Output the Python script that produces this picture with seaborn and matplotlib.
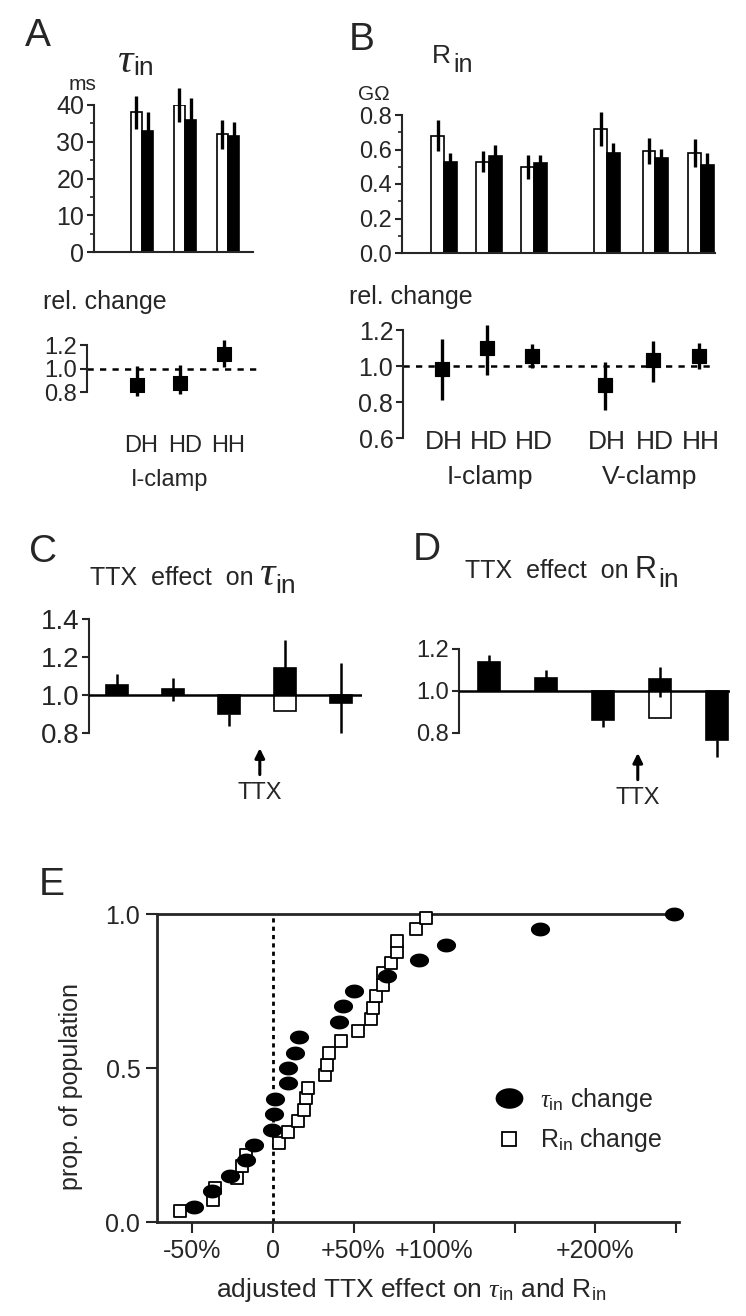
import numpy as np
import pandas as pd
import seaborn as sns
import matplotlib.pyplot as plt
from matplotlib.path import Path
from matplotlib.lines import Line2D
from matplotlib.transforms import blended_transform_factory

# ---- data ----
# A: tau_in (ms), white = control, black = test
a_groups = ["DH", "HD", "HH"]
a_ctrl = [38.0, 40.0, 32.0]
a_ctrl_err = [4.5, 4.5, 4.0]
a_test = [33.0, 36.0, 31.5]
a_test_err = [5.0, 6.0, 4.0]
a_rel = [0.86, 0.88, 1.12]
a_rel_lo = [0.77, 0.78, 1.01]
a_rel_hi = [1.02, 1.03, 1.24]

# B: R_in (GOhm)
b_groups = ["DH", "HD", "HD", "DH", "HD", "HH"]
b_ctrl = [0.68, 0.53, 0.50, 0.72, 0.59, 0.58]
b_ctrl_err = [0.09, 0.06, 0.07, 0.10, 0.075, 0.08]
b_test = [0.53, 0.56, 0.52, 0.58, 0.55, 0.51]
b_test_err = [0.05, 0.065, 0.05, 0.06, 0.055, 0.07]
b_rel = [0.985, 1.10, 1.056, 0.893, 1.033, 1.056]
b_rel_lo = [0.81, 0.95, 0.99, 0.756, 0.91, 0.985]
b_rel_hi = [1.148, 1.23, 1.12, 1.02, 1.14, 1.13]

# C: TTX effect on tau_in
c_test = [1.054, 1.034, 0.90, 1.14, 0.96]
c_ctrl = [np.nan, np.nan, np.nan, 0.915, np.nan]
c_lo = [1.0, 0.97, 0.835, 1.0, 0.80]
c_hi = [1.11, 1.09, 0.90, 1.29, 1.17]

# D: TTX effect on R_in
d_test = [1.138, 1.061, 0.861, 1.056, 0.765]
d_ctrl = [np.nan, np.nan, np.nan, 0.873, np.nan]
d_lo = [1.0, 1.0, 0.83, 0.973, 0.685]
d_hi = [1.17, 1.10, 0.861, 1.113, 0.765]

# E: cumulative distributions (% change)
tau_x = [-49, -38, -27, -17, -12, -0.5, 0.5, 1.5, 9.5, 9.5, 13.5, 16, 41, 43.5,
         50, 70.5, 90.5, 107.5, 166, 249]
tau_y = [0.05, 0.10, 0.15, 0.20, 0.25, 0.30, 0.35, 0.40, 0.45, 0.50, 0.55, 0.60,
         0.65, 0.70, 0.75, 0.80, 0.85, 0.90, 0.95, 1.00]
r_x = [-58, -37.5, -36, -22.5, -19.5, -17, 3.5, 9, 15.5, 19, 20.5, 21.5, 32,
       33.5, 35, 42, 53, 61, 62, 64, 68, 68.5, 73.5, 77, 77, 89, 95]
r_y = [0.037, 0.071, 0.110, 0.144, 0.182, 0.218, 0.258, 0.291, 0.329, 0.364,
       0.402, 0.436, 0.477, 0.510, 0.548, 0.588, 0.621, 0.659, 0.696, 0.734,
       0.769, 0.807, 0.840, 0.878, 0.912, 0.950, 0.986]

# ---- layout ----
a_pos = [0, 1, 2]
b_pos = [0, 1, 2, 3.62, 4.69, 5.71]

sns.set_style("ticks")
plt.rcParams["font.family"] = ["Liberation Sans", "DejaVu Sans"]
plt.rcParams["mathtext.fontset"] = "custom"
plt.rcParams["mathtext.rm"] = "Liberation Sans"
plt.rcParams["mathtext.it"] = "Liberation Serif:italic"
plt.rcParams["axes.linewidth"] = 1.5
plt.rcParams["xtick.major.width"] = 1.5
plt.rcParams["ytick.major.width"] = 1.5
plt.rcParams["ytick.minor.width"] = 1.2

W, H = 746, 1316
fig = plt.figure(figsize=(W / 100, H / 100), dpi=100)


def add_ax(x0, x1, y0, y1):
    return fig.add_axes([x0 / W, 1 - y1 / H, (x1 - x0) / W, (y1 - y0) / H])


def ftext(x, y, s, **kw):
    return fig.text(x / W, 1 - y / H, s, **kw)


def under_label(ax, xd, ypx, s, **kw):
    tr = blended_transform_factory(ax.transData, fig.transFigure)
    ax.text(xd, 1 - ypx / H, s, transform=tr, ha="center", va="center", **kw)


def after(ax, prev, s, ypx, dx, **kw):
    # text placed right after another text artist, baseline at ypx
    return ax.annotate(s, xy=(1.0, 1 - ypx / H), xycoords=(prev, "figure fraction"),
                       xytext=(dx, 0), textcoords="offset points", ha="left",
                       va="baseline", annotation_clip=False, **kw)


pal = {"ctrl": "white", "test": "black"}
tau_kw = dict(family="Liberation Serif", style="italic")

# ---------- A top ----------
axA = add_ax(94, 253, 105, 252)
dfA = pd.DataFrame({"pos": a_pos * 2, "val": a_ctrl + a_test,
                    "cond": ["ctrl"] * 3 + ["test"] * 3})
sns.barplot(data=dfA, x="pos", y="val", hue="cond", native_scale=True,
            palette=pal, edgecolor="black", linewidth=1.2, width=0.52,
            errorbar=None, legend=False, ax=axA)
for cont, errs in zip(axA.containers, [a_ctrl_err, a_test_err]):
    for bar, e in zip(cont, errs):
        xc = bar.get_x() + bar.get_width() / 2
        h = bar.get_height()
        axA.vlines(xc, h - e, h + e, color="black", lw=2.4, clip_on=False, zorder=4)
axA.set_xlim(-1.116, 2.58)
axA.set_ylim(0, 40)
axA.set_yticks([0, 10, 20, 30, 40])
axA.set_yticks([5, 15, 25, 35], minor=True)
axA.set_xticks([])
axA.set_xlabel("")
axA.set_ylabel("")
axA.tick_params(axis="y", labelsize=18, length=5, pad=2)
axA.tick_params(axis="y", which="minor", length=3)
sns.despine(ax=axA)

# ---------- A lower ----------
axa = add_ax(87, 257, 335.6, 397.9)
axa.axhline(1.0, color="black", lw=1.8, ls=(0, (2.5, 2.5)))
axa.vlines(a_pos, a_rel_lo, a_rel_hi, color="black", lw=2.4, zorder=3)
sns.scatterplot(x=a_pos, y=a_rel, marker="s", s=95, color="black",
                edgecolor="black", ax=axa, zorder=4)
axa.set_xlim(-1.15, 2.76)
axa.set_ylim(0.75, 1.28)
axa.set_yticks([0.8, 1.0, 1.2])
axa.set_yticklabels(["0.8", "1.0", "1.2"])
axa.set_xticks([])
axa.tick_params(axis="y", labelsize=17, length=5, pad=2)
sns.despine(ax=axa, bottom=True)
axa.spines["left"].set_bounds(0.8, 1.2)
for xp, g in zip(a_pos, a_groups):
    under_label(axa, xp + 0.1, 446, g, fontsize=17)

# ---------- B top ----------
axB = add_ax(402, 715, 115, 253)
dfB = pd.DataFrame({"pos": b_pos * 2, "val": b_ctrl + b_test,
                    "cond": ["ctrl"] * 6 + ["test"] * 6})
sns.barplot(data=dfB, x="pos", y="val", hue="cond", native_scale=True,
            palette=pal, edgecolor="black", linewidth=1.2, width=0.56,
            errorbar=None, legend=False, ax=axB)
for cont, errs in zip(axB.containers, [b_ctrl_err, b_test_err]):
    for bar, e in zip(cont, errs):
        xc = bar.get_x() + bar.get_width() / 2
        h = bar.get_height()
        axB.vlines(xc, h - e, h + e, color="black", lw=2.4, clip_on=False, zorder=4)
axB.set_xlim(-0.933, 6.02)
axB.set_ylim(0, 0.8)
axB.set_yticks([0, 0.2, 0.4, 0.6, 0.8])
axB.set_yticklabels(["0.0", "0.2", "0.4", "0.6", "0.8"])
axB.set_yticks([0.1, 0.3, 0.5, 0.7], minor=True)
axB.set_xticks([])
axB.set_xlabel("")
axB.set_ylabel("")
axB.tick_params(axis="y", labelsize=17, length=5, pad=2)
axB.tick_params(axis="y", which="minor", length=3)
sns.despine(ax=axB)

# ---------- B lower ----------
axb = add_ax(403, 715, 319.2, 441.6)
axb.axhline(1.0, color="black", lw=1.8, ls=(0, (2.5, 2.5)))
axb.vlines(b_pos, b_rel_lo, b_rel_hi, color="black", lw=2.4, zorder=3)
sns.scatterplot(x=b_pos, y=b_rel, marker="s", s=110, color="black",
                edgecolor="black", ax=axb, zorder=4)
axb.set_xlim(-0.86, 6.07)
axb.set_ylim(0.58, 1.26)
axb.set_yticks([0.6, 0.8, 1.0, 1.2])
axb.set_yticklabels(["0.6", "0.8", "1.0", "1.2"])
axb.set_xticks([])
axb.tick_params(axis="y", labelsize=18, length=5, pad=2)
sns.despine(ax=axb, bottom=True)
axb.spines["left"].set_bounds(0.6, 1.2)
for xp, g in zip(b_pos, b_groups):
    under_label(axb, xp + 0.05, 442, g, fontsize=19)


# ---------- C / D floating bars ----------
def ttx_panel(ax, test, ctrl, lo, hi):
    n = len(test)
    df = pd.DataFrame({"pos": list(range(n)) * 2,
                       "dev": [v - 1 for v in test] + [v - 1 for v in ctrl],
                       "cond": ["test"] * n + ["ctrl"] * n}).dropna()
    sns.barplot(data=df, x="pos", y="dev", hue="cond", dodge=False,
                palette=pal, edgecolor="black", linewidth=1.2, width=0.39,
                errorbar=None, legend=False, ax=ax, bottom=1.0)
    ax.vlines(range(n), lo, hi, color="black", lw=1.8, zorder=4)
    ax.axhline(1.0, color="black", lw=1.8, zorder=5)
    ax.set_xticks([])
    ax.set_xlabel("")
    ax.set_ylabel("")
    sns.despine(ax=ax, bottom=True)


arrow = dict(arrowstyle="-|>", color="black", lw=2.2, mutation_scale=14,
             shrinkA=3, shrinkB=0)

axC = add_ax(89, 362, 619, 740.6)
ttx_panel(axC, c_test, c_ctrl, c_lo, c_hi)
axC.set_xlim(-0.5, 4.375)
axC.set_ylim(0.76, 1.4)
axC.set_yticks([0.8, 1.0, 1.2, 1.4])
axC.set_yticklabels(["0.8", "1.0", "1.2", "1.4"])
axC.spines["left"].set_bounds(0.8, 1.4)
axC.tick_params(axis="y", labelsize=20, length=5, pad=2)
axC.annotate("TTX", xy=(2.55, 0.72), xytext=(2.55, 0.484), ha="center",
             va="center", fontsize=17, annotation_clip=False, arrowprops=arrow)

axD = add_ax(459, 730, 649, 760.3)
ttx_panel(axD, d_test, d_ctrl, d_lo, d_hi)
axD.set_xlim(-0.53, 4.23)
axD.set_ylim(0.67, 1.2)
axD.set_yticks([0.8, 1.0, 1.2])
axD.set_yticklabels(["0.8", "1.0", "1.2"])
axD.spines["left"].set_bounds(0.8, 1.2)
axD.tick_params(axis="y", labelsize=17, length=5, pad=2)
axD.annotate("TTX", xy=(2.61, 0.705), xytext=(2.61, 0.49), ha="center",
             va="center", fontsize=17, annotation_clip=False, arrowprops=arrow)

# ---------- E ----------
axE = add_ax(157, 679, 914, 1222)
t = np.linspace(0, 2 * np.pi, 64)
ellipse = Path(np.column_stack([1.38 * np.cos(t), np.sin(t)]), closed=True)
axE.axvline(0, ymin=0, ymax=1, color="black", lw=2.0, ls=(0, (1.5, 1.5)))
sns.scatterplot(x=r_x, y=r_y, marker="s", s=80, color="white",
                edgecolor="black", linewidth=1.3, ax=axE, zorder=3, clip_on=False)
sns.scatterplot(x=tau_x, y=tau_y, marker=ellipse, s=190, color="black",
                edgecolor="black", linewidth=0, ax=axE, zorder=4, clip_on=False)
axE.set_xlim(-72, 252)
axE.set_ylim(0, 1)
axE.set_xticks([-50, 0, 50, 100, 150, 200, 250])
axE.set_xticklabels(["-50%", "0", "+50%", "+100%", "", "+200%", ""])
axE.set_yticks([0, 0.5, 1.0])
axE.set_yticklabels(["0.0", "0.5", "1.0"])
axE.tick_params(labelsize=18, length=8, pad=4)
for side in ["left", "bottom", "top"]:
    axE.spines[side].set_linewidth(2.0)
axE.spines["right"].set_visible(False)
handles = [Line2D([], [], ls="", marker=ellipse, ms=19, color="black"),
           Line2D([], [], ls="", marker="s", ms=10, mfc="white", mec="black", mew=1.3)]
axE.legend(handles, [r"$\tau_{\mathrm{in}}$ change", r"R$_{\mathrm{in}}$ change"],
           loc="center left", bbox_to_anchor=(0.650, 0.331), frameon=False,
           fontsize=18, handlelength=1.0, handletextpad=0.74, labelspacing=0.5,
           borderpad=0, borderaxespad=0)

# ---------- text ----------
for lab, x, y in [("A", 38, 36), ("B", 362, 40), ("C", 43, 552), ("D", 427, 550), ("E", 52, 885)]:
    ftext(x, y, lab, fontsize=28, ha="center", va="center")

# panel titles: main symbol with a large "in" subscript right after it
tA = ftext(117, 72, "\u03c4", fontsize=31, ha="left", va="baseline", **tau_kw)
after(axA, tA, "in", 75, 0.5, fontsize=19)
tB = ftext(432, 63, "R", fontsize=19, ha="left", va="baseline")
after(axB, tB, "in", 72, 1.5, fontsize=18)

tC = ftext(90, 585, "TTX  effect  on", fontsize=18, ha="left", va="baseline")
tC2 = after(axC, tC, "\u03c4", 585, 4, fontsize=31, **tau_kw)
after(axC, tC2, "in", 593, 0.5, fontsize=19)
tD = ftext(465, 578, "TTX  effect  on", fontsize=18, ha="left", va="baseline")
tD2 = after(axD, tD, "R", 578, 4, fontsize=22)
after(axD, tD2, "in", 587, 1.5, fontsize=19)

ftext(83, 85, "ms", fontsize=15, ha="center", va="center")
ftext(374, 94, "G\u03a9", fontsize=15, ha="center", va="center")
ftext(105, 302, "rel. change", fontsize=18, ha="center", va="center")
ftext(411, 297, "rel. change", fontsize=18, ha="center", va="center")
ftext(170, 480, "I-clamp", fontsize=17, ha="center", va="center")
ftext(490, 477, "I-clamp", fontsize=19, ha="center", va="center")
ftext(650, 477, "V-clamp", fontsize=19, ha="center", va="center")
ftext(71, 1086, "prop. of population", fontsize=18, ha="center", va="center", rotation=90)
ftext(411, 1290, r"adjusted TTX effect on $\tau_{\mathrm{in}}$ and R$_{\mathrm{in}}$",
      fontsize=19, ha="center", va="center")

fig.savefig("out.png", dpi=100)
